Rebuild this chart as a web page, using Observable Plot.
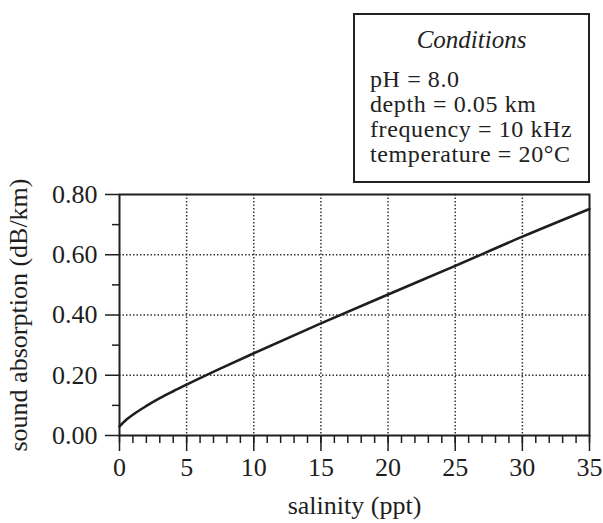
<!DOCTYPE html>
<html>
<head>
<meta charset="utf-8">
<script src="https://cdn.jsdelivr.net/npm/d3@7"></script>
<script src="https://cdn.jsdelivr.net/npm/@observablehq/plot@0.6"></script>
<style>
  html, body { margin: 0; padding: 0; background: #fff; }
  #wrap { position: relative; width: 603px; height: 523px; font-family: "Liberation Serif", "DejaVu Serif", serif; color: #222; }
  #box { position: absolute; left: 353px; top: 13px; width: 233px; height: 166px; border: 2px solid #222; background: #fff; }
  #box .title { position: absolute; left: 0; right: 0; top: 12px; text-align: center; font-style: italic; font-size: 25px; line-height: 25px; }
  #box .lines { position: absolute; left: 15px; top: 52px; font-size: 24px; line-height: 25px; letter-spacing: 0.6px; white-space: nowrap; }
  #chart { position: absolute; left: 0; top: 0; }
</style>
</head>
<body>
<div id="wrap">
  <div id="chart"></div>
  <div id="box">
    <div class="title">Conditions</div>
    <div class="lines" id="lines"></div>
  </div>
</div>
<script>
// Data
const salinity = [0, 0.5, 1, 2, 3, 4, 5, 7.5, 10, 15, 20, 25, 30, 35];
const absorption = [0.030, 0.052, 0.069, 0.098, 0.124, 0.147, 0.169, 0.222, 0.273, 0.372, 0.468, 0.563, 0.660, 0.752];
const xTicks = [0, 5, 10, 15, 20, 25, 30, 35];
const xMinor = d3.range(0, 36, 1);
const yTicks = [0, 0.2, 0.4, 0.6, 0.8];
const yMinor = [0.1, 0.3, 0.5, 0.7];
const xGrid = [5, 10, 15, 20, 25, 30];
const yGrid = [0.2, 0.4, 0.6];
const conditions = ["pH = 8.0", "depth = 0.05 km", "frequency = 10 kHz", "temperature = 20°C"];

document.getElementById("lines").innerHTML = conditions.map(s => `<div>${s}</div>`).join("");

const data = salinity.map((s, i) => ({s, a: absorption[i]}));
const ink = "#1e1e1e";

const chart = Plot.plot({
  width: 603,
  height: 523,
  marginLeft: 119,
  marginRight: 14,
  marginTop: 194,
  marginBottom: 88,
  style: {fontFamily: "'Liberation Serif', serif", fontSize: "26px", color: ink, background: "transparent"},
  x: {domain: [0, 35]},
  y: {domain: [0, 0.8]},
  marks: [
    Plot.gridX(xGrid, {stroke: ink, strokeOpacity: 0.9, strokeWidth: 1.5, strokeDasharray: "1.5,2"}),
    Plot.gridY(yGrid, {stroke: ink, strokeOpacity: 0.9, strokeWidth: 1.5, strokeDasharray: "1.5,2"}),
    Plot.axisX(xMinor, {tickSize: 8, text: null, stroke: ink, strokeWidth: 1.5, label: null}),
    Plot.axisX(xTicks, {tickSize: 16, tickPadding: 6, stroke: ink, strokeWidth: 1.5, fontSize: 26,
      label: "salinity (ppt)", labelAnchor: "center", labelArrow: "none", labelOffset: 78}),
    Plot.axisY(yMinor, {tickSize: 7, text: null, stroke: ink, strokeWidth: 1.5, label: null}),
    Plot.axisY(yTicks, {tickSize: 14, tickPadding: 8, tickFormat: ".2f", stroke: ink, strokeWidth: 1.5, fontSize: 26,
      label: "sound absorption (dB/km)", labelAnchor: "center", labelArrow: "none", labelOffset: 111}),
    Plot.frame({stroke: ink, strokeWidth: 2}),
    Plot.line(data, {x: "s", y: "a", curve: "monotone-x", stroke: ink, strokeWidth: 2.6})
  ]
});
document.getElementById("chart").appendChild(chart);
</script>
</body>
</html>
